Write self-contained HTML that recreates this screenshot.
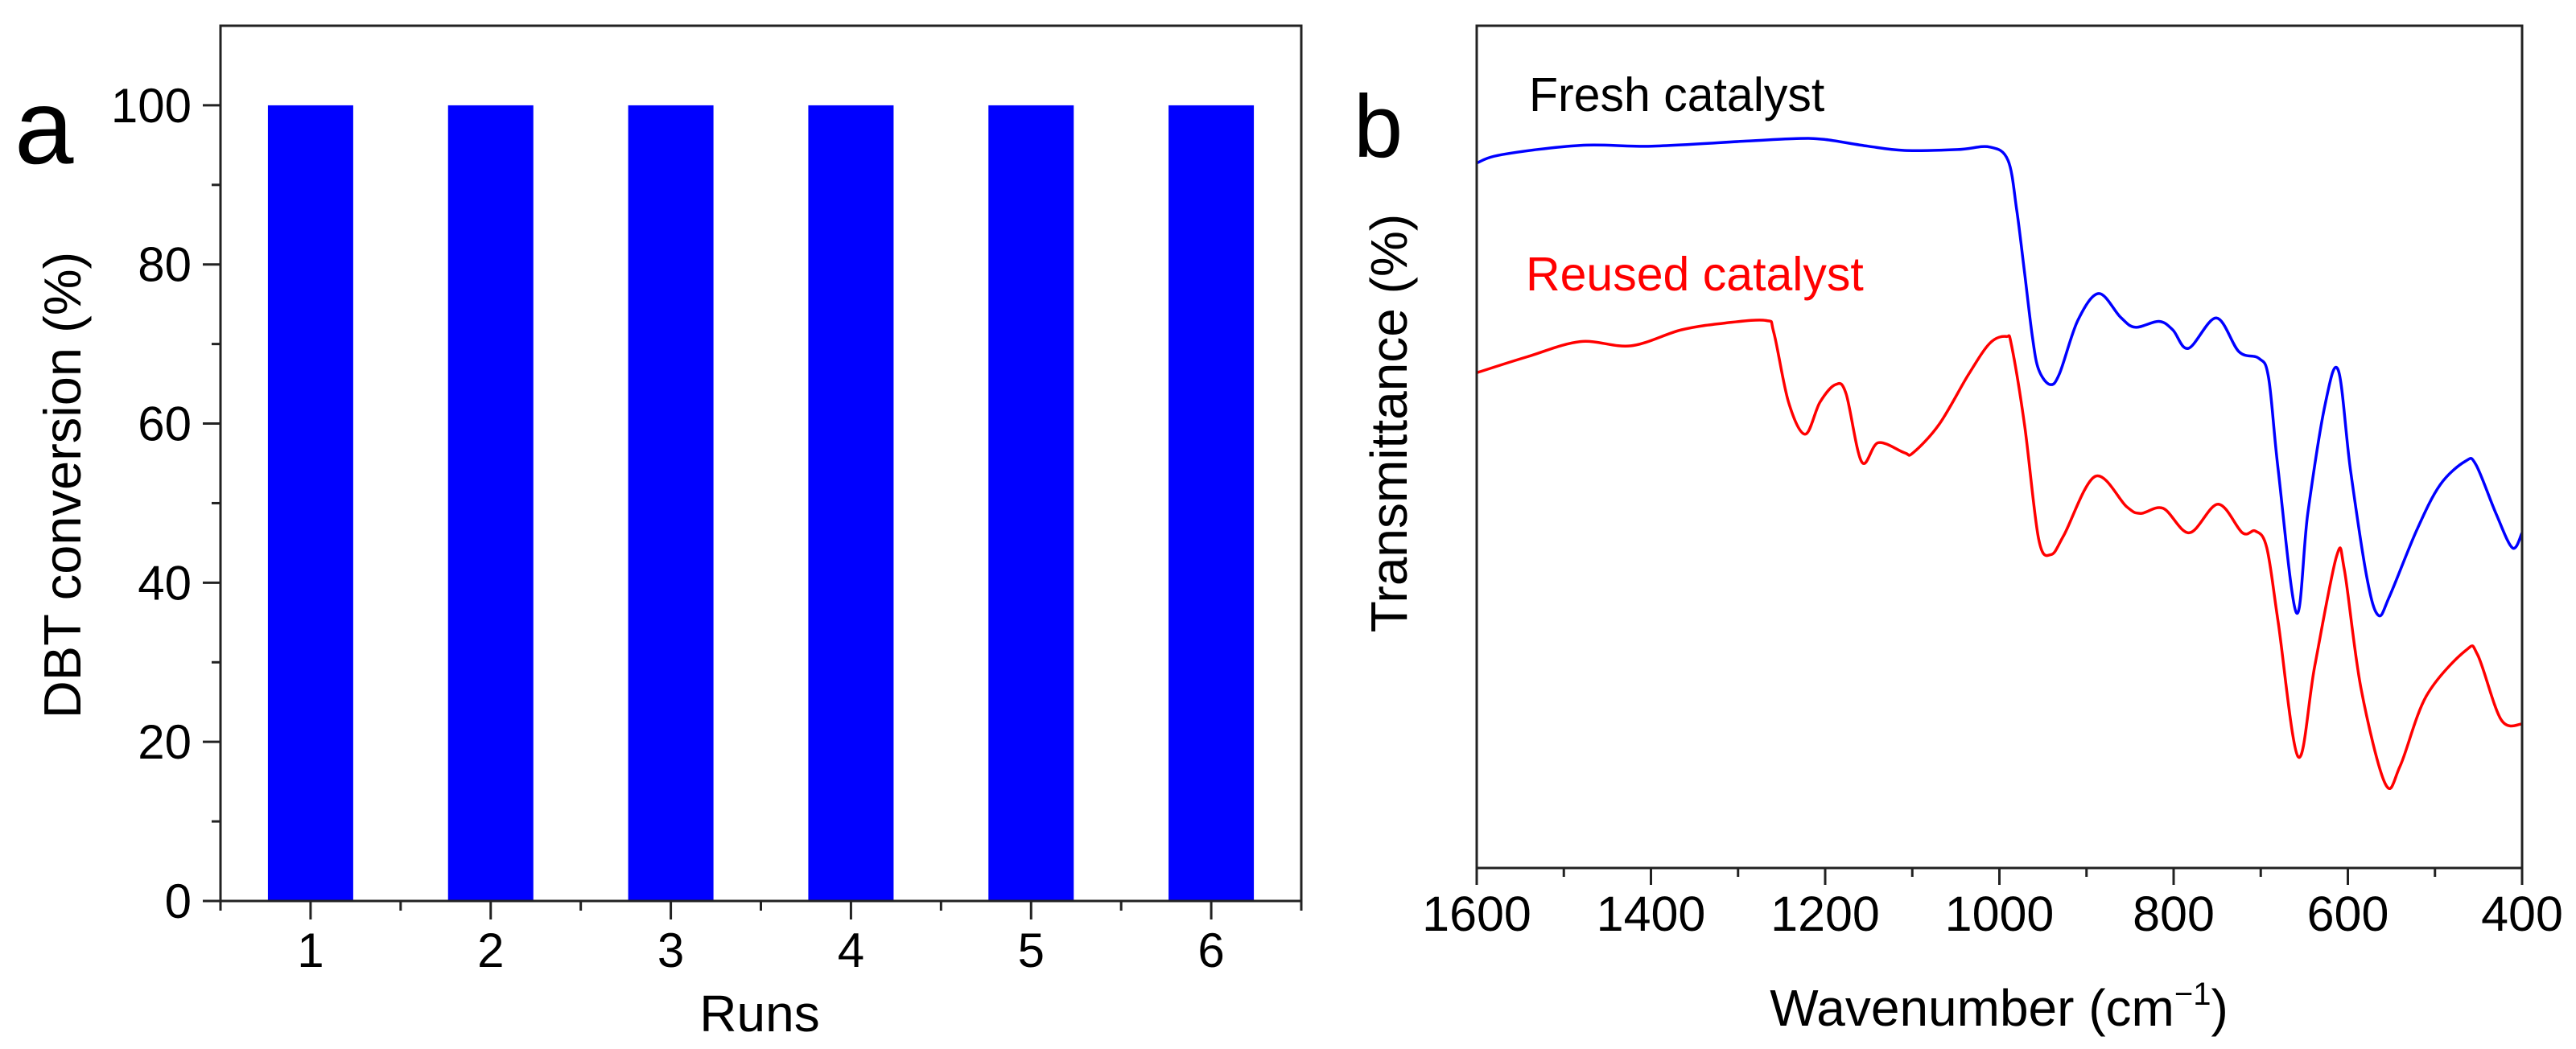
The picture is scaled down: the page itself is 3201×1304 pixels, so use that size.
<!DOCTYPE html>
<html><head><meta charset="utf-8"><style>
html,body{margin:0;padding:0;background:#fff;}
svg{display:block;font-family:"Liberation Sans",Arial,sans-serif;}
</style></head><body>
<svg id="fig" width="3201" height="1304" viewBox="0 0 3201 1304" xmlns="http://www.w3.org/2000/svg">
<g id="pa"></g>
<g id="pb"></g>
</svg>
<script>
// ---------- Panel a data ----------
const runs = [1, 2, 3, 4, 5, 6];
const conversion = [100, 100, 100, 100, 100, 100];
const yTicksA = [0, 20, 40, 60, 80, 100];
const yMinorA = [10, 30, 50, 70, 90];

// ---------- Panel b data ----------
const xTicksB = [1600, 1400, 1200, 1000, 800, 600, 400];
const xMinorB = [1500, 1300, 1100, 900, 700, 500];
const freshWn = [1600,1571,1481,1399,1291,1233,1201,1151,1109,1048,1011,990,980,971,962,955,942,931,910,886,861,844,817,801,783,751,725,702,691,680,659,646,626,611,597,578,565,552,521,494,465,453,430,411,400];
const freshT  = [83.7,84.7,85.8,85.7,86.3,86.6,86.5,85.7,85.2,85.3,85.6,84.0,78,70.6,63,59.2,57.4,58.7,65,68.2,65.4,64.2,64.9,63.9,61.7,65.3,61.3,60.5,58.2,47.3,30.3,42.1,55.1,59.1,47.3,34.4,30.0,32.3,40.1,45.5,48.3,47.9,42.1,38,39.8];
const reusedWn = [1600,1542,1481,1423,1365,1315,1268,1259,1242,1223,1206,1188,1176,1158,1139,1109,1099,1069,1036,1011,992,986,971,955,941,926,890,854,838,812,782,749,721,706,693,680,657,638,613,604,585,557,540,510,465,451,424,400];
const reusedT  = [58.8,60.7,62.5,62,63.9,64.7,65,63.6,55.3,51.5,55.3,57.4,56.3,48.2,50.5,49.3,49.3,52.7,58.5,62.3,63.1,62,52.5,39.1,37.2,39.5,46.5,42.9,42.1,42.7,39.8,43.2,39.8,40,38,29.2,13.2,24,37,35.4,21.4,10,12.1,20.4,25.8,25.3,17.6,17.1];

const NS = "http://www.w3.org/2000/svg";
function mk(parent, tag, attrs, text){
  const e = document.createElementNS(NS, tag);
  for (const k in attrs) e.setAttribute(k, attrs[k]);
  if (text !== undefined) e.textContent = text;
  parent.appendChild(e);
  return e;
}
const AX = "#222";

// ---------- Panel a ----------
const pa = document.getElementById('pa');
const A = {l:274, r:1617, t:32, b:1120, xmin:0.5, xmax:6.5, ymin:0, ymax:110};
const xa = v => A.l + (v - A.xmin) / (A.xmax - A.xmin) * (A.r - A.l);
const ya = v => A.b - (v - A.ymin) / (A.ymax - A.ymin) * (A.b - A.t);
const barW = 106;
runs.forEach((r, i) => {
  const b = mk(pa, 'rect', {x: xa(r) - barW/2, y: ya(conversion[i]), width: barW, height: ya(0) - ya(conversion[i]), fill: '#0000ff'});
  
  
});
const frameA = mk(pa, 'rect', {x:A.l, y:A.t, width:A.r-A.l, height:A.b-A.t, fill:'none', stroke:AX, 'stroke-width':3});


yTicksA.forEach(v => {
  mk(pa, 'line', {x1:A.l-22, x2:A.l, y1:ya(v), y2:ya(v), stroke:AX, 'stroke-width':3});
  const t = mk(pa, 'text', {x:A.l-36, y:ya(v)+21, 'font-size':60, 'text-anchor':'end', fill:'#000'}, String(v));
  
  
});
yMinorA.forEach(v => mk(pa, 'line', {x1:A.l-11, x2:A.l, y1:ya(v), y2:ya(v), stroke:AX, 'stroke-width':3}));
runs.forEach(r => {
  mk(pa, 'line', {x1:xa(r), x2:xa(r), y1:A.b, y2:A.b+23, stroke:AX, 'stroke-width':3});
  const t = mk(pa, 'text', {x:xa(r), y:1202, 'font-size':60, 'text-anchor':'middle', fill:'#000'}, String(r));
  
  
});
for (let k = 0; k <= runs.length; k++) {
  const v = A.xmin + k;
  mk(pa, 'line', {x1:xa(v), x2:xa(v), y1:A.b, y2:A.b+12, stroke:AX, 'stroke-width':3});
}
const xtA = mk(pa, 'text', {x:944, y:1282, 'font-size':64, 'text-anchor':'middle', fill:'#000'}, 'Runs');


const ytA = mk(pa, 'text', {x:0, y:0, 'font-size':65, 'text-anchor':'middle', fill:'#000', transform:'translate(100,603) rotate(-90)'}, 'DBT conversion (%)');


const la = mk(pa, 'text', {x:18, y:203, 'font-size':132, fill:'#000'}, 'a');



// ---------- Panel b ----------
const pb = document.getElementById('pb');
const B = {l:1835, r:3134, t:32, b:1079, xmin:1600, xmax:400, ymin:0, ymax:100};
const xb = v => B.l + (v - B.xmin) / (B.xmax - B.xmin) * (B.r - B.l);
const yb = v => B.b - (v - B.ymin) / (B.ymax - B.ymin) * (B.b - B.t);
function smoothPath(xs, ys){
  const P = xs.map((w, i) => [xb(w), yb(ys[i])]);
  let d = 'M' + P[0][0].toFixed(1) + ',' + P[0][1].toFixed(1);
  for (let i = 0; i < P.length - 1; i++) {
    const p0 = P[Math.max(0, i-1)], p1 = P[i], p2 = P[i+1], p3 = P[Math.min(P.length-1, i+2)];
    const c1 = [p1[0] + (p2[0]-p0[0])/6, p1[1] + (p2[1]-p0[1])/6];
    const c2 = [p2[0] - (p3[0]-p1[0])/6, p2[1] - (p3[1]-p1[1])/6];
    d += ' C' + c1.map(n=>n.toFixed(1)).join(',') + ' ' + c2.map(n=>n.toFixed(1)).join(',') + ' ' + p2.map(n=>n.toFixed(1)).join(',');
  }
  return d;
}
const fl = mk(pb, 'path', {d: smoothPath(freshWn, freshT), fill:'none', stroke:'#0000ff', 'stroke-width':3.5, 'stroke-linejoin':'round'});


const rl = mk(pb, 'path', {d: smoothPath(reusedWn, reusedT), fill:'none', stroke:'#ff0000', 'stroke-width':3.5, 'stroke-linejoin':'round'});


const frameB = mk(pb, 'rect', {x:B.l, y:B.t, width:B.r-B.l, height:B.b-B.t, fill:'none', stroke:AX, 'stroke-width':3});


xTicksB.forEach(v => {
  mk(pb, 'line', {x1:xb(v), x2:xb(v), y1:B.b, y2:B.b+21, stroke:AX, 'stroke-width':3});
  const t = mk(pb, 'text', {x:xb(v), y:1157, 'font-size':61, 'text-anchor':'middle', fill:'#000'}, String(v));
  
  
});
xMinorB.forEach(v => mk(pb, 'line', {x1:xb(v), x2:xb(v), y1:B.b, y2:B.b+11, stroke:AX, 'stroke-width':3}));
const xtB = mk(pb, 'text', {x:2484, y:1275, 'font-size':64, 'text-anchor':'middle', fill:'#000'});


mk(xtB, 'tspan', {}, 'Wavenumber (cm');
mk(xtB, 'tspan', {dy:-26, 'font-size':40}, '\u22121');
mk(xtB, 'tspan', {dy:26}, ')');
const ytB = mk(pb, 'text', {x:0, y:0, 'font-size':64, 'text-anchor':'middle', fill:'#000', transform:'translate(1748,526) rotate(-90)'}, 'Transmittance (%)');


const lb = mk(pb, 'text', {x:1682, y:195, 'font-size':110, fill:'#000'}, 'b');


const lf = mk(pb, 'text', {x:1900, y:138, 'font-size':59, fill:'#000'}, 'Fresh catalyst');


const lr = mk(pb, 'text', {x:1896, y:361, 'font-size':59, fill:'#ff0000'}, 'Reused catalyst');


</script>
</body></html>
